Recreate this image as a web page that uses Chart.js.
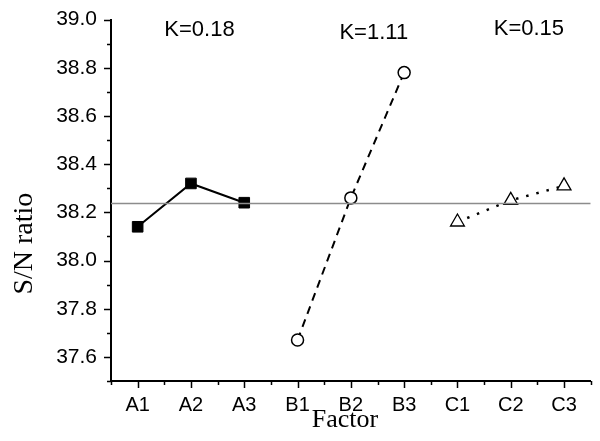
<!DOCTYPE html>
<html>
<head>
<meta charset="utf-8">
<script src="https://cdn.jsdelivr.net/npm/chart.js@4.4.0/dist/chart.umd.min.js"></script>
<style>
  body { margin: 0; background: #fff; }
  #wrap { width: 600px; height: 441px; }
</style>
</head>
<body>
<div id="wrap"><canvas id="chart"></canvas></div>
<script>
// factor levels on the x axis
const categories = ["A1", "A2", "A3", "B1", "B2", "B3", "C1", "C2", "C3"];

// S/N ratio per level
const snA = [38.14, 38.32, 38.24];
const snB = [37.67, 38.26, 38.78];
const snC = [38.16, 38.25, 38.31];

// range labels above each factor group
const kLabels = ["K=0.18", "K=1.11", "K=0.15"];

const allVals = [...snA, ...snB, ...snC];
const mean = allVals.reduce((s, v) => s + v, 0) / allVals.length;

// pair values with their position on the factor axis (1..9)
const pts = (vals, start) => vals.map((v, i) => ({ x: start + i + 1, y: v }));

const serif = "'Liberation Serif', 'Times New Roman', serif";
const sans = "'Liberation Sans', Arial, sans-serif";

/* ========= ticks, minor ticks, titles and K labels ========= */
const extras = {
  id: "extras",
  afterDraw(chart) {
    const { ctx, scales: { x, y }, chartArea } = chart;
    ctx.save();
    ctx.strokeStyle = "#000";
    ctx.lineWidth = 1.5;
    ctx.beginPath();
    // y ticks, 0.1 apart, every second one long
    for (let i = 0; i <= 15; i++) {
      const v = 37.5 + i * 0.1;
      const len = i % 2 === 1 ? 7 : 4;
      const py = Math.round(y.getPixelForValue(v)) + 0.5;
      ctx.moveTo(chartArea.left, py);
      ctx.lineTo(chartArea.left - len, py);
    }
    // x ticks at each level and half way between
    for (let i = 1; i <= 19; i++) {
      const v = i * 0.5;
      const len = i % 2 === 0 ? 7 : 4;
      const px = Math.round(x.getPixelForValue(v)) + 0.5;
      ctx.moveTo(px, chartArea.bottom);
      ctx.lineTo(px, chartArea.bottom + len);
    }
    ctx.stroke();

    ctx.fillStyle = "#000";
    ctx.textAlign = "center";
    ctx.textBaseline = "middle";

    // K labels over groups A, B, C
    const kPos = [[2.16, 38.958], [5.43, 38.945], [8.34, 38.962]];
    ctx.font = "22px " + sans;
    kLabels.forEach((t, i) => {
      ctx.fillText(t, x.getPixelForValue(kPos[i][0]), y.getPixelForValue(kPos[i][1]));
    });

    // axis titles
    ctx.font = "26px " + serif;
    ctx.fillText("Factor", x.getPixelForValue(4.89), 420);
    ctx.translate(25, y.getPixelForValue(38.07));
    ctx.rotate(-Math.PI / 2);
    ctx.font = "28px " + serif;
    ctx.fillText("S/N ratio", 0, 0);
    ctx.restore();
  }
};

new Chart(document.getElementById("chart"), {
  type: "line",
  data: {
    datasets: [
      {
        data: [{ x: 0.5, y: mean }, { x: 9.5, y: mean }],
        borderColor: "#8c8c8c",
        borderWidth: 1.5,
        pointRadius: 0
      },
      {
        data: pts(snA, 0),
        borderColor: "#000",
        borderWidth: 2,
        pointStyle: "rect",
        pointRadius: 7.5,
        pointBackgroundColor: "#000",
        pointBorderColor: "#000",
        pointBorderWidth: 1
      },
      {
        data: pts(snB, 3),
        borderColor: "#000",
        borderWidth: 2,
        borderDash: [8, 6],
        pointStyle: "circle",
        pointRadius: 6,
        pointBackgroundColor: "#fff",
        pointBorderColor: "#000",
        pointBorderWidth: 1.5
      },
      {
        data: pts(snC, 6),
        borderColor: "#000",
        borderWidth: 2.5,
        borderDash: [2.5, 8],
        pointStyle: "triangle",
        pointRadius: 8,
        pointBackgroundColor: "#fff",
        pointBorderColor: "#000",
        pointBorderWidth: 1.3
      }
    ]
  },
  options: {
    responsive: true,
    maintainAspectRatio: false,
    animation: false,
    layout: { padding: { top: 18, right: 1, left: 0, bottom: 0 } },
    plugins: { legend: { display: false }, tooltip: { enabled: false } },
    scales: {
      x: {
        type: "linear",
        min: 0.5,
        max: 9.5,
        afterFit: s => { s.height = 60; },
        afterBuildTicks: s => {
          s.ticks = categories.map((c, i) => ({ value: i + 1 }));
        },
        grid: { drawOnChartArea: false, drawTicks: true, tickLength: 7, color: "transparent" },
        border: { color: "#000", width: 2 },
        ticks: {
          color: "#000",
          padding: 5,
          maxRotation: 0,
          autoSkip: false,
          font: { family: sans, size: 20 },
          callback: v => categories[Math.round(v) - 1]
        }
      },
      y: {
        min: 37.5,
        max: 39.0,
        afterFit: s => { s.width = 111; },
        afterBuildTicks: s => {
          const t = [];
          for (let i = 0; i <= 7; i++) t.push({ value: 37.6 + i * 0.2 });
          s.ticks = t;
        },
        grid: { drawOnChartArea: false, drawTicks: true, tickLength: 7, color: "transparent" },
        border: { color: "#000", width: 2 },
        ticks: {
          color: "#000",
          padding: 7,
          font: { family: sans, size: 21 },
          callback: v => v.toFixed(1)
        }
      }
    }
  },
  plugins: [extras]
});
</script>
</body>
</html>
